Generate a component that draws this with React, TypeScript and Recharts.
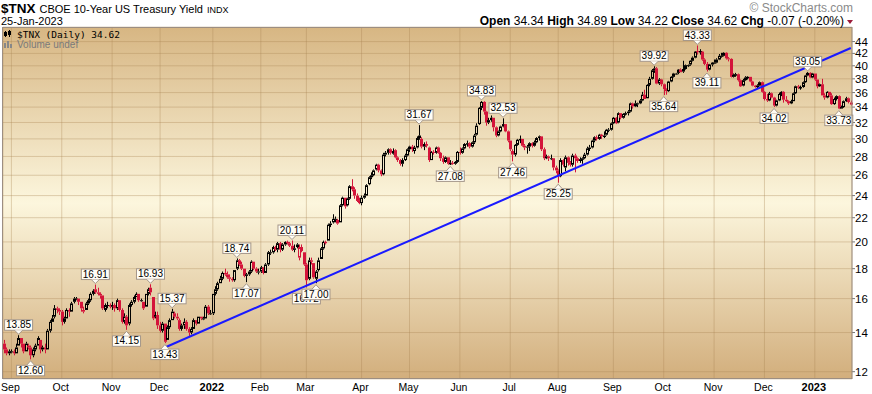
import React from "react";
import {
  ComposedChart,
  Bar,
  XAxis,
  YAxis,
  CartesianGrid,
  ReferenceLine,
  ReferenceDot,
} from "recharts";

// [open, high, low, close] per trading day
type Row = [number, number, number, number];

const aug21: Row[] = [
  [13.4, 13.6, 12.9, 13.1], [13.1, 13.2, 12.8, 12.9], [12.9, 13.1, 12.8, 13.0],
];
const sep21: Row[] = [
  [13.0, 13.1, 12.9, 13.0], [13.0, 13.1, 12.8, 12.9], [12.9, 13.4, 12.9, 13.2],
  [13.3, 13.85, 13.3, 13.7], [13.7, 13.7, 13.2, 13.4], [13.4, 13.4, 12.9, 13.0],
  [13.0, 13.5, 13.0, 13.4], [13.3, 13.4, 13.1, 13.2], [13.2, 13.3, 12.6, 12.8],
  [12.8, 13.2, 12.7, 13.1], [13.1, 13.4, 13.0, 13.3], [13.3, 13.8, 13.3, 13.7],
  [13.6, 13.6, 12.9, 13.1], [13.1, 13.3, 13.0, 13.2], [13.2, 13.4, 12.9, 13.1],
  [13.1, 14.2, 13.1, 14.1], [14.1, 14.7, 14.0, 14.6], [14.6, 15.0, 14.6, 14.8],
  [14.9, 15.6, 14.8, 15.4], [15.4, 15.5, 15.1, 15.3], [15.3, 15.4, 15.0, 15.2],
];
const oct21: Row[] = [
  [15.2, 15.3, 14.4, 14.6], [14.6, 14.9, 14.5, 14.8], [14.8, 15.4, 14.8, 15.3],
  [15.3, 15.4, 14.9, 15.2], [15.2, 15.8, 15.2, 15.7], [15.8, 16.1, 15.7, 16.0],
  [16.0, 16.1, 15.9, 16.0], [16.0, 16.0, 15.6, 15.8], [15.8, 15.8, 15.2, 15.4],
  [15.3, 15.5, 15.1, 15.2], [15.3, 15.8, 15.3, 15.7], [15.7, 16.0, 15.6, 15.9],
  [15.9, 16.4, 15.8, 16.3], [16.3, 16.6, 16.2, 16.5], [16.6, 16.91, 16.3, 16.4],
  [16.4, 16.7, 16.2, 16.3], [16.3, 16.4, 16.0, 16.2], [16.2, 16.2, 15.3, 15.4],
  [15.3, 15.7, 15.2, 15.6], [15.6, 15.8, 15.4, 15.6], [15.6, 15.7, 15.4, 15.5],
];
const nov21: Row[] = [
  [15.5, 15.8, 15.3, 15.6], [15.6, 15.7, 15.2, 15.4], [15.4, 16.0, 15.3, 15.9],
  [15.9, 15.9, 15.2, 15.3], [15.3, 15.4, 14.5, 14.6], [14.6, 15.1, 14.5, 14.9],
  [14.9, 15.0, 14.15, 14.4], [14.5, 15.7, 14.4, 15.6], [15.6, 15.9, 15.5, 15.8],
  [15.8, 16.2, 15.7, 16.1], [16.1, 16.4, 16.1, 16.3], [16.3, 16.3, 15.8, 15.9],
  [15.9, 16.0, 15.8, 15.9], [15.8, 15.8, 15.3, 15.4], [15.5, 16.3, 15.5, 16.3],
  [16.3, 16.7, 16.2, 16.6], [16.7, 16.93, 16.2, 16.4], [16.1, 16.1, 14.7, 14.8],
  [14.9, 15.2, 14.8, 15.0], [15.0, 15.2, 14.2, 14.4],
];
const dec21: Row[] = [
  [14.4, 14.6, 14.0, 14.1], [14.1, 14.6, 14.0, 14.5], [14.5, 14.5, 13.43, 13.5],
  [13.6, 14.4, 13.6, 14.3], [14.3, 14.8, 14.2, 14.7], [14.7, 15.37, 14.7, 15.2],
  [15.1, 15.2, 14.8, 14.9], [14.9, 15.1, 14.7, 14.8], [14.7, 14.8, 14.1, 14.2],
  [14.2, 14.5, 14.1, 14.4], [14.4, 14.8, 14.2, 14.6], [14.6, 14.7, 14.1, 14.2],
  [14.2, 14.3, 13.8, 14.0], [14.0, 14.3, 13.9, 14.2], [14.2, 14.8, 14.2, 14.7],
  [14.7, 14.7, 14.4, 14.5], [14.5, 14.9, 14.5, 14.9], [14.9, 14.9, 14.7, 14.8],
  [14.8, 14.9, 14.7, 14.8], [14.8, 15.6, 14.8, 15.5], [15.5, 15.6, 15.0, 15.1],
  [15.1, 15.3, 15.0, 15.1],
];
const jan22: Row[] = [
  [15.1, 16.3, 15.0, 16.3], [16.3, 16.8, 16.2, 16.6], [16.6, 17.1, 16.5, 17.0],
  [17.0, 17.5, 17.0, 17.3], [17.3, 17.8, 17.2, 17.7], [17.7, 18.0, 17.5, 17.6],
  [17.6, 17.8, 17.3, 17.4], [17.4, 17.6, 17.1, 17.3], [17.3, 17.4, 17.1, 17.2],
  [17.2, 17.9, 17.1, 17.9], [18.0, 18.74, 17.9, 18.6], [18.6, 18.7, 18.2, 18.3],
  [18.3, 18.5, 17.9, 18.0], [18.0, 18.0, 17.4, 17.5], [17.5, 17.7, 17.07, 17.6],
  [17.6, 17.9, 17.5, 17.8], [17.8, 18.6, 17.7, 18.5], [18.5, 18.5, 17.9, 18.0],
  [18.0, 18.1, 17.7, 17.8], [17.8, 18.0, 17.6, 17.8],
];
const feb22: Row[] = [
  [17.8, 18.2, 17.7, 18.1], [18.1, 18.1, 17.6, 17.7], [17.7, 18.4, 17.7, 18.3],
  [18.3, 19.3, 18.2, 19.2], [19.2, 19.4, 19.0, 19.2], [19.2, 19.7, 19.1, 19.6],
  [19.6, 19.7, 19.3, 19.4], [19.4, 20.0, 19.2, 19.9], [19.9, 20.0, 19.2, 19.4],
  [19.4, 19.9, 19.3, 19.8], [19.8, 20.05, 19.7, 20.0], [20.0, 20.1, 19.8, 19.9],
  [19.9, 20.0, 19.6, 19.7], [19.7, 20.11, 19.3, 19.4], [19.4, 19.8, 19.2, 19.5],
  [19.6, 19.9, 19.5, 19.8], [18.8, 19.8, 18.6, 19.6], [19.6, 19.8, 19.2, 19.3],
  [19.2, 19.2, 18.2, 18.3],
];
const mar22: Row[] = [
  [18.3, 18.4, 16.72, 17.2], [17.3, 18.8, 17.2, 18.6], [18.6, 18.8, 18.3, 18.5],
  [18.4, 18.4, 17.3, 17.4], [17.3, 17.9, 17.0, 17.8], [17.9, 18.8, 17.8, 18.6],
  [18.7, 19.6, 18.7, 19.5], [19.5, 20.1, 19.4, 20.0], [20.0, 20.1, 19.8, 19.9],
  [20.1, 21.5, 20.1, 21.4], [21.4, 21.7, 21.2, 21.5], [21.6, 22.3, 21.5, 21.9],
  [21.9, 22.1, 21.6, 21.9], [21.8, 21.9, 21.4, 21.5], [21.6, 23.2, 21.6, 23.1],
  [23.1, 23.9, 23.0, 23.8], [23.8, 23.8, 22.8, 23.0], [23.1, 23.8, 23.0, 23.7],
  [23.7, 25.0, 23.6, 24.9], [24.9, 25.6, 24.4, 24.6], [24.6, 24.8, 23.7, 24.0],
  [24.0, 24.2, 23.4, 23.5], [23.5, 23.8, 23.2, 23.3],
];
const apr22: Row[] = [
  [23.3, 24.0, 23.1, 23.8], [23.8, 24.2, 23.7, 24.0], [24.0, 25.1, 24.0, 25.0],
  [25.1, 25.9, 25.0, 25.8], [25.8, 26.3, 25.6, 26.0], [26.0, 26.6, 25.9, 26.5],
  [26.6, 27.2, 26.5, 27.1], [27.1, 27.2, 26.3, 26.5], [26.5, 26.6, 25.9, 26.1],
  [26.1, 28.4, 26.0, 28.2], [28.2, 28.6, 28.0, 28.4], [28.4, 28.9, 28.2, 28.8],
  [28.8, 28.9, 28.2, 28.4], [28.3, 28.9, 28.2, 28.6], [28.7, 28.8, 27.8, 27.9],
  [27.9, 28.0, 27.4, 27.6], [27.6, 27.7, 27.0, 27.2], [27.2, 27.8, 26.9, 27.6],
  [27.6, 28.3, 27.5, 28.1], [28.1, 28.9, 28.0, 28.8],
];
const may22: Row[] = [
  [28.8, 29.2, 28.5, 29.1], [29.1, 29.3, 28.5, 28.8], [28.6, 29.2, 28.3, 29.0],
  [29.0, 30.3, 28.9, 30.1], [30.1, 31.67, 29.9, 30.4], [30.0, 30.2, 28.9, 29.1],
  [29.1, 29.6, 28.7, 29.4], [29.4, 29.7, 29.0, 29.2], [29.0, 29.1, 27.4, 27.6],
  [27.6, 28.6, 27.6, 28.5], [28.5, 28.7, 28.2, 28.4], [28.4, 29.1, 28.3, 29.0],
  [29.0, 29.1, 28.3, 28.4], [28.4, 28.5, 27.5, 27.8], [27.8, 28.1, 27.2, 27.4],
  [27.4, 28.0, 27.3, 27.9], [27.9, 27.9, 27.1, 27.2], [27.2, 27.6, 27.08, 27.3],
  [27.3, 27.5, 27.1, 27.2], [27.2, 27.5, 27.1, 27.4], [27.4, 28.6, 27.3, 28.5],
];
const jun22: Row[] = [
  [28.5, 29.0, 28.2, 28.4], [28.4, 29.0, 28.3, 28.9], [28.9, 29.5, 28.8, 29.4],
  [29.4, 29.8, 29.1, 29.5], [29.5, 29.6, 28.9, 29.1], [29.1, 29.7, 29.0, 29.6],
  [29.6, 30.6, 29.4, 30.4], [30.5, 31.9, 30.4, 31.6], [31.8, 34.0, 31.7, 33.9],
  [33.9, 34.83, 33.6, 34.7], [34.7, 34.8, 33.0, 33.4], [33.4, 33.5, 31.6, 32.0],
  [32.0, 32.6, 31.8, 32.3], [32.3, 32.9, 32.1, 32.6], [32.6, 32.6, 30.9, 31.4],
  [31.4, 31.5, 30.2, 30.4], [30.4, 31.0, 30.3, 30.9], [30.9, 31.6, 30.8, 31.5],
  [31.5, 32.53, 31.4, 31.8], [31.8, 31.8, 30.8, 30.9], [30.9, 31.0, 29.6, 29.8],
];
const jul22: Row[] = [
  [29.8, 29.8, 28.6, 28.8], [28.6, 28.8, 27.46, 28.2], [28.2, 29.4, 28.0, 29.3],
  [29.3, 30.0, 29.2, 29.9], [29.9, 30.4, 29.5, 30.0], [30.0, 30.0, 29.1, 29.2],
  [29.2, 29.4, 28.7, 29.0], [29.1, 29.3, 28.3, 29.1], [29.1, 29.6, 28.6, 29.5],
  [29.5, 29.6, 29.0, 29.2], [29.2, 29.8, 29.1, 29.6], [29.6, 30.2, 29.5, 30.1],
  [30.1, 30.4, 29.8, 30.3], [30.3, 30.3, 28.6, 28.8], [28.8, 29.0, 27.6, 27.8],
  [27.8, 28.2, 27.7, 28.0], [28.0, 28.1, 27.5, 27.8], [27.8, 28.2, 27.6, 27.8],
  [27.8, 27.8, 26.5, 26.8], [26.8, 27.0, 26.2, 26.5],
];
const aug22: Row[] = [
  [26.5, 26.6, 25.25, 25.9], [25.9, 27.8, 25.8, 27.6], [27.6, 27.7, 26.9, 27.1],
  [26.8, 28.1, 26.4, 27.9], [27.9, 28.0, 27.0, 27.3], [27.3, 27.5, 26.9, 27.1],
  [27.1, 28.3, 26.9, 28.1], [28.1, 28.3, 26.3, 27.8], [27.8, 27.9, 27.3, 27.5],
  [27.5, 27.9, 27.3, 27.7], [27.7, 27.9, 27.2, 27.8], [27.8, 28.4, 27.7, 28.2],
  [28.2, 29.1, 28.1, 28.9], [28.9, 29.3, 28.6, 29.0], [29.0, 29.9, 28.9, 29.8],
  [29.8, 30.3, 29.6, 30.2], [30.2, 30.4, 29.8, 30.0], [30.0, 30.6, 29.9, 30.5],
  [30.5, 30.6, 30.0, 30.3], [30.3, 30.9, 30.1, 30.4], [30.5, 31.2, 30.4, 31.1],
  [31.1, 31.3, 30.8, 31.1], [31.1, 32.0, 31.0, 31.9],
];
const sep22: Row[] = [
  [31.9, 32.7, 31.8, 32.6], [32.6, 32.7, 31.8, 31.9], [32.0, 33.3, 31.9, 33.2],
  [33.2, 33.2, 32.4, 32.6], [32.6, 33.2, 32.5, 33.1], [33.1, 33.4, 32.9, 33.2],
  [33.2, 33.6, 32.9, 33.4], [33.4, 34.6, 33.3, 34.5], [34.5, 34.6, 33.8, 34.1],
  [34.1, 34.9, 34.0, 34.5], [34.5, 34.6, 34.0, 34.5], [34.5, 35.1, 34.4, 34.9],
  [34.9, 36.1, 34.8, 35.7], [35.7, 36.4, 35.1, 35.1], [35.2, 37.2, 35.2, 37.1],
  [37.1, 38.3, 36.9, 38.0], [38.0, 39.5, 37.9, 39.3], [39.3, 39.92, 38.9, 39.6],
  [39.6, 39.8, 37.2, 37.3], [37.3, 38.1, 37.1, 37.9], [37.9, 38.0, 36.9, 37.2],
];
const oct22: Row[] = [
  [37.2, 37.3, 35.64, 36.5], [36.5, 36.6, 35.7, 36.2], [36.2, 37.7, 36.1, 37.6],
  [37.6, 38.4, 37.5, 38.3], [38.3, 38.9, 38.2, 38.8], [38.8, 38.9, 38.7, 38.8],
  [38.9, 39.5, 38.7, 39.4], [39.4, 39.6, 39.0, 39.0], [39.1, 40.8, 38.9, 39.5],
  [39.5, 40.2, 39.4, 40.1], [40.1, 40.2, 39.8, 40.1], [40.2, 40.9, 40.0, 40.8],
  [40.8, 41.5, 40.7, 41.3], [41.3, 42.4, 41.2, 42.3], [42.4, 43.33, 41.8, 42.2],
  [42.2, 42.7, 41.8, 42.4], [42.3, 42.4, 40.8, 41.0], [41.0, 41.2, 40.1, 40.3],
  [40.3, 40.6, 39.11, 39.4], [39.4, 40.3, 39.3, 40.2], [40.2, 40.6, 39.9, 40.5],
];
const nov22: Row[] = [
  [40.5, 41.0, 40.3, 40.5], [40.5, 41.2, 40.4, 41.0], [41.0, 41.9, 40.9, 41.6],
  [41.6, 42.1, 41.3, 41.6], [41.6, 42.2, 41.5, 42.1], [42.1, 42.2, 41.0, 41.2],
  [41.2, 41.4, 40.7, 41.1], [41.1, 41.2, 38.2, 38.3], [38.3, 38.8, 38.2, 38.6],
  [38.6, 38.9, 38.3, 38.7], [38.7, 38.8, 37.6, 37.8], [37.8, 37.9, 36.8, 36.9],
  [37.0, 38.0, 36.9, 37.8], [37.8, 38.4, 37.7, 38.2], [38.2, 38.4, 37.9, 38.3],
  [38.3, 38.3, 37.5, 37.6], [37.6, 37.7, 36.9, 37.0], [37.0, 37.1, 36.7, 36.8],
  [36.8, 37.2, 36.6, 37.0], [37.0, 37.6, 36.9, 37.5], [37.5, 37.6, 36.0, 36.1],
];
const dec22: Row[] = [
  [36.1, 36.2, 34.9, 35.1], [35.1, 35.8, 34.7, 34.9], [34.9, 36.1, 34.8, 35.9],
  [35.9, 36.0, 35.2, 35.3], [35.3, 35.4, 34.02, 34.2], [34.2, 35.0, 34.1, 34.9],
  [34.9, 36.0, 34.8, 35.8], [35.8, 36.2, 35.5, 36.1], [36.1, 36.2, 34.6, 35.0],
  [35.0, 35.5, 34.7, 34.8], [34.8, 34.9, 34.3, 34.5], [34.5, 35.0, 34.4, 34.8],
  [34.8, 36.0, 34.8, 35.9], [35.9, 37.0, 35.8, 36.9], [36.9, 37.1, 36.5, 36.7],
  [36.7, 37.0, 36.4, 36.8], [36.8, 37.6, 36.7, 37.5], [37.5, 38.6, 37.4, 38.5],
  [38.5, 39.05, 38.4, 38.9], [38.9, 39.0, 38.1, 38.2], [38.2, 38.9, 38.1, 38.8],
];
const jan23: Row[] = [
  [38.8, 38.8, 37.7, 37.9], [37.9, 37.9, 36.6, 36.9], [36.9, 37.3, 36.8, 37.2],
  [37.2, 38.0, 35.6, 35.6], [35.6, 35.9, 35.0, 35.3], [35.3, 36.2, 35.2, 36.1],
  [36.1, 36.1, 35.4, 35.6], [35.6, 35.9, 34.3, 34.4], [34.4, 35.3, 34.3, 35.1],
  [35.1, 35.6, 34.9, 35.5], [35.5, 35.6, 33.73, 33.8], [33.8, 34.2, 33.8, 34.0],
  [34.0, 34.9, 33.9, 34.8], [34.8, 35.4, 34.7, 35.2], [35.2, 35.3, 34.5, 34.69],
  [34.34, 34.89, 34.22, 34.62],
];

// month label shown at the first trading day of each block
const monthLabels = ["", "Sep", "Oct", "Nov", "Dec", "2022", "Feb", "Mar", "Apr", "May",
  "Jun", "Jul", "Aug", "Sep", "Oct", "Nov", "Dec", "2023"];
const monthRows = [aug21, sep21, oct21, nov21, dec21, jan22, feb22, mar22, apr22, may22,
  jun22, jul22, aug22, sep22, oct22, nov22, dec22, jan23];

const yTicks = [12, 14, 16, 18, 20, 22, 24, 26, 28, 30, 32, 34, 36, 38, 40, 42, 44];

// swing high / low tags: [day index, value, above?]
const tags: [number, number, boolean][] = [
  [6, 13.85, true], [11, 12.6, false], [38, 16.91, true], [51, 14.15, false],
  [61, 16.93, true], [67, 13.43, false], [70, 15.37, true], [97, 18.74, true],
  [101, 17.07, false], [120, 20.11, true], [126, 16.72, false], [130, 17.0, false],
  [173, 31.67, true], [186, 27.08, false], [199, 34.83, true], [208, 32.53, true],
  [212, 27.46, false], [231, 25.25, false], [271, 39.92, true], [275, 35.64, false],
  [289, 43.33, true], [293, 39.11, false], [321, 34.02, false], [335, 39.05, true],
  [348, 33.73, false],
];

const trendStart = { i: 67, v: 13.2 };
const trendEnd = { i: 353, v: 42.9 };

const RED = "#d4143a";
const FONT = "'Liberation Sans', Arial, sans-serif";

const data: any[] = [];
const tickIdx: number[] = [];
const tickLabel: Record<number, string> = {};
monthRows.forEach((rows, m) => {
  rows.forEach((r, k) => {
    const i = data.length;
    if (k === 0 && monthLabels[m]) {
      tickIdx.push(i);
      tickLabel[i] = monthLabels[m];
    }
    const prev = i > 0 ? data[i - 1].c : r[0];
    data.push({ i, o: r[0], h: r[1], l: r[2], c: r[3], prev, range: [r[2], r[1]] });
  });
});

function Candle(props: any) {
  const { x, y, width, height, payload } = props;
  if (!payload || !isFinite(y) || !isFinite(height)) return null;
  const { o, h, l, c, prev } = payload;
  const yTop = Math.min(y, y + height);
  const ht = Math.abs(height);
  const lh = Math.log(h);
  const ll = Math.log(l);
  const yOf = (v: number) => (lh === ll ? yTop : yTop + (ht * (lh - Math.log(v))) / (lh - ll));
  const cx = Math.round(x + width / 2);
  const color = c < prev ? RED : "#000";
  const bTop = yOf(Math.max(o, c));
  const bBot = Math.max(yOf(Math.min(o, c)), bTop + 1);
  const hollow = c > o;
  return (
    <g>
      <line x1={cx + 0.5} x2={cx + 0.5} y1={yTop} y2={bTop} stroke={color} strokeWidth={1} />
      <line x1={cx + 0.5} x2={cx + 0.5} y1={bBot} y2={yTop + ht} stroke={color} strokeWidth={1} />
      {hollow ? (
        <rect x={cx - 0.5} y={bTop + 0.5} width={2} height={Math.max(bBot - bTop - 1, 0.5)}
          fill="none" stroke={color} strokeWidth={1} />
      ) : (
        <rect x={cx - 1} y={bTop} width={3} height={bBot - bTop} fill={color} />
      )}
    </g>
  );
}

function Tag(props: any) {
  const { cx, cy, text, above } = props;
  if (!isFinite(cx) || !isFinite(cy)) return null;
  const w = (text.length - 1) * 5.56 + 2.78 + 3;
  const hb = 10.5;
  const bx = cx - w / 2;
  const by = above ? cy - 5 - hb : cy + 6;
  const edge = above ? by + hb : by;
  const tip = above ? cy - 1 : cy + 1.5;
  return (
    <g>
      <rect x={bx} y={by} width={w} height={hb} fill="#fffdf6" stroke="#a5978a" strokeWidth={1} />
      <path d={`M${cx - 4},${edge} L${cx},${tip} L${cx + 4},${edge} Z`} fill="#fffdf6" />
      <path d={`M${cx - 4},${edge} L${cx},${tip} L${cx + 4},${edge}`} fill="none" stroke="#a5978a" strokeWidth={1} />
      <text x={cx} y={by + 8.6} textAnchor="middle" fontSize={10} fontFamily={FONT} fill="#000">
        {text}
      </text>
    </g>
  );
}

function MonthTick(props: any) {
  const { x, y, payload } = props;
  const label = tickLabel[payload.value] || "";
  const bold = label === "2022" || label === "2023";
  return (
    <text x={x - 1} y={y + 8} textAnchor="middle" fontSize={bold ? 11 : 10.5}
      fontWeight={bold ? "bold" : "normal"} fontFamily={FONT} fill="#000">
      {label}
    </text>
  );
}

export default function App() {
  return (
    <div style={{ position: "absolute", left: 0, top: 0, width: 872, height: 394, background: "#fff" }}>
      <svg width={0} height={0} style={{ position: "absolute" }}>
        <defs>
          <linearGradient id="tnxBg" x1="0" y1="0" x2="0" y2="1">
            <stop offset="0%" stopColor="#d7b683" />
            <stop offset="50%" stopColor="#fcf6dd" />
            <stop offset="100%" stopColor="#d2ae7c" />
          </linearGradient>
        </defs>
      </svg>

      <ComposedChart
        width={872}
        height={394}
        data={data}
        margin={{ top: 27, right: 0, bottom: 0, left: 3 }}
        barCategoryGap={0}
        barGap={0}
      >
        <CartesianGrid fill="url(#tnxBg)" stroke="#a98552" strokeOpacity={0.35} />
        <XAxis
          dataKey="i"
          type="category"
          ticks={tickIdx}
          interval={0}
          tick={<MonthTick />}
          tickLine={false}
          axisLine={false}
          tickSize={2}
          tickMargin={2}
          height={15}
        />
        <YAxis
          orientation="right"
          scale="log"
          domain={[11.66, 46.6]}
          allowDataOverflow
          ticks={yTicks}
          interval={0}
          width={20}
          axisLine={false}
          tickSize={3}
          tickMargin={0}
          tickLine={{ stroke: "#777" }}
          tick={{ fontSize: 11.5, fill: "#000", fontFamily: FONT }}
        />
        <Bar dataKey="range" shape={<Candle />} isAnimationActive={false} />
        <ReferenceLine
          segment={[{ x: trendStart.i, y: trendStart.v }, { x: trendEnd.i, y: trendEnd.v }]}
          stroke="#1a1aff"
          strokeWidth={2}
          ifOverflow="visible"
        />
        {tags.map(([i, v, above]) => (
          <ReferenceDot
            key={`${i}-${v}`}
            x={i}
            y={v}
            r={0}
            ifOverflow="visible"
            shape={(p: any) => <Tag cx={p.cx} cy={p.cy} text={v.toFixed(2)} above={above} />}
          />
        ))}
      </ComposedChart>

      <svg width={872} height={394} style={{ position: "absolute", left: 0, top: 0, pointerEvents: "none" }}>
        <rect x={2.5} y={27.5} width={849.5} height={351} fill="none" stroke="#9c8e82" strokeWidth={1} />
        <text x={1} y={12.5} fontFamily={FONT} fill="#000">
          <tspan fontSize={13.5} fontWeight="bold">$TNX</tspan>
          <tspan fontSize={11} dx={4}>CBOE 10-Year US Treasury Yield</tspan>
          <tspan fontSize={9} dx={4}>INDX</tspan>
        </text>
        <text x={1} y={24.5} fontFamily={FONT} fontSize={11} fill="#000">25-Jan-2023</text>
        <text x={853} y={12} textAnchor="end" fontFamily={FONT} fontSize={12} fill="#8a8a8a">© StockCharts.com</text>
        <text x={844} y={25} textAnchor="end" fontFamily={FONT} fontSize={12} fill="#000">
          <tspan fontWeight="bold">Open</tspan> 34.34 <tspan fontWeight="bold">High</tspan> 34.89{" "}
          <tspan fontWeight="bold">Low</tspan> 34.22 <tspan fontWeight="bold">Close</tspan> 34.62{" "}
          <tspan fontWeight="bold">Chg</tspan> -0.07 (-0.20%)
        </text>
        <path d="M847,20 L853,20 L850,24 Z" fill="#9b1a3a" />
        {/* legend */}
        <line x1={5.5} x2={5.5} y1={31} y2={37} stroke="#000" />
        <rect x={4.5} y={32.5} width={2} height={3} fill="none" stroke="#000" />
        <line x1={9.5} x2={9.5} y1={30} y2={37} stroke="#000" />
        <rect x={8} y={31} width={3} height={4} fill="#000" />
        <text x={17} y={37.5} fontFamily="'DejaVu Sans Mono', monospace" fontSize={9.5} fill="#000">$TNX (Daily) 34.62</text>
        <rect x={4} y={43} width={2} height={5} fill="#888" />
        <rect x={7} y={41} width={2} height={7} fill="#888" />
        <rect x={10} y={44} width={2} height={4} fill="#888" />
        <text x={17} y={47.5} fontFamily={FONT} fontSize={10} fill="#7a7a7a">Volume undef</text>
      </svg>
    </div>
  );
}
